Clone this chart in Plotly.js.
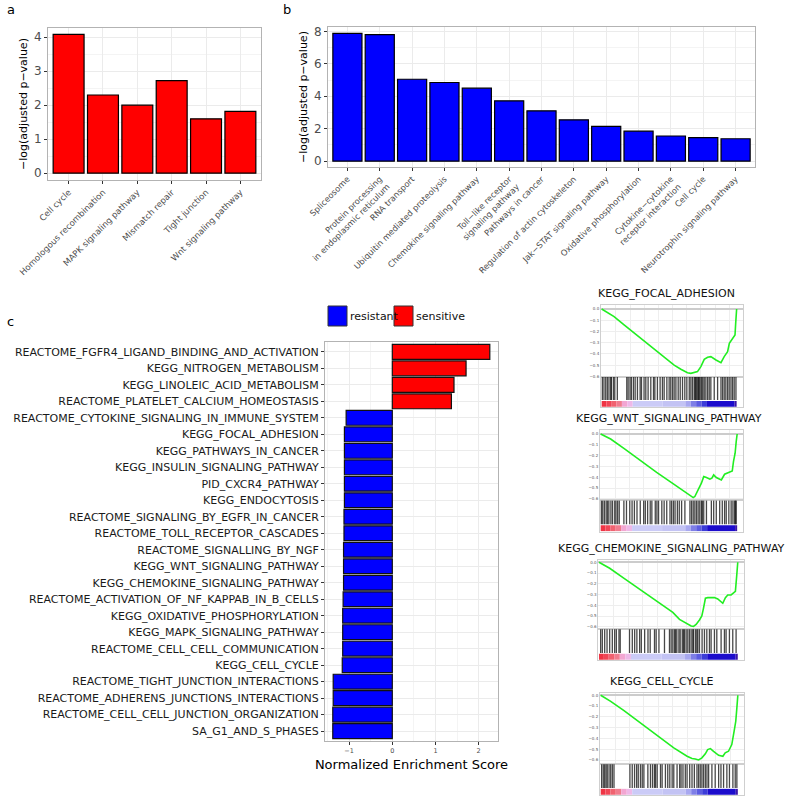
<!DOCTYPE html>
<html>
<head>
<meta charset="utf-8">
<script src="https://cdn.plot.ly/plotly-3.0.1.min.js"></script>
<style>html,body{margin:0;padding:0;background:#fff;}#chart{width:787px;height:798px;}</style>
</head>
<body>
<div id="chart"></div>
<script>
// ---------- Panel a ----------
const catA = ["Cell cycle", "Homologous recombination", "MAPK signaling pathway", "Mismatch repair", "Tight junction", "Wnt signaling pathway"];
const valA = [4.08, 2.3, 2.0, 2.72, 1.6, 1.82];

// ---------- Panel b ----------
const catB = ["Spliceosome", "Protein processing<br>in endoplasmic reticulum", "RNA transport", "Ubiquitin mediated proteolysis",
  "Chemokine signaling pathway", "Toll\u2212like receptor<br>signaling pathway", "Pathways in cancer", "Regulation of actin cytoskeleton",
  "Jak\u2212STAT signaling pathway", "Oxidative phosphorylation", "Cytokine\u2212cytokine<br>receptor interaction", "Cell cycle", "Neurotrophin signaling pathway"];
const valB = [7.88, 7.8, 5.05, 4.85, 4.5, 3.72, 3.1, 2.55, 2.15, 1.85, 1.55, 1.45, 1.38];

// ---------- Panel c ----------
const catC = ["REACTOME_FGFR4_LIGAND_BINDING_AND_ACTIVATION", "KEGG_NITROGEN_METABOLISM", "KEGG_LINOLEIC_ACID_METABOLISM",
  "REACTOME_PLATELET_CALCIUM_HOMEOSTASIS", "REACTOME_CYTOKINE_SIGNALING_IN_IMMUNE_SYSTEM", "KEGG_FOCAL_ADHESION",
  "KEGG_PATHWAYS_IN_CANCER", "KEGG_INSULIN_SIGNALING_PATHWAY", "PID_CXCR4_PATHWAY", "KEGG_ENDOCYTOSIS",
  "REACTOME_SIGNALING_BY_EGFR_IN_CANCER", "REACTOME_TOLL_RECEPTOR_CASCADES", "REACTOME_SIGNALLING_BY_NGF",
  "KEGG_WNT_SIGNALING_PATHWAY", "KEGG_CHEMOKINE_SIGNALING_PATHWAY", "REACTOME_ACTIVATION_OF_NF_KAPPAB_IN_B_CELLS",
  "KEGG_OXIDATIVE_PHOSPHORYLATION", "KEGG_MAPK_SIGNALING_PATHWAY", "REACTOME_CELL_CELL_COMMUNICATION", "KEGG_CELL_CYCLE",
  "REACTOME_TIGHT_JUNCTION_INTERACTIONS", "REACTOME_ADHERENS_JUNCTIONS_INTERACTIONS", "REACTOME_CELL_CELL_JUNCTION_ORGANIZATION",
  "SA_G1_AND_S_PHASES"];
const nesC = [2.26, 1.71, 1.43, 1.37, -1.07, -1.11, -1.11, -1.11, -1.11, -1.11, -1.12, -1.12, -1.13, -1.13, -1.13,
  -1.14, -1.15, -1.15, -1.15, -1.16, -1.37, -1.37, -1.38, -1.38];
const groupNames = ["resistant", "sensitive"];
const groupColors = ["#0000FF", "#FF0000"];

// ---------- GSEA enrichment plots ----------
const gseaTitles = ["KEGG_FOCAL_ADHESION", "KEGG_WNT_SIGNALING_PATHWAY", "KEGG_CHEMOKINE_SIGNALING_PATHWAY", "KEGG_CELL_CYCLE"];

const es1X = [0, 0.092, 0.166, 0.29, 0.413, 0.537, 0.587, 0.636, 0.661, 0.71, 0.735, 0.76, 0.785, 0.809, 0.847, 0.884, 0.908, 0.933, 0.946, 0.97, 0.988, 0.993, 1];
const es1Y = [0, -0.068, -0.142, -0.26, -0.38, -0.50, -0.537, -0.567, -0.573, -0.558, -0.513, -0.448, -0.43, -0.424, -0.454, -0.478, -0.424, -0.38, -0.306, -0.26, -0.231, -0.128, 0];
const hits1 = [0.005, 0.017, 0.03, 0.042, 0.054, 0.067, 0.072, 0.087, 0.097, 0.116, 0.186, 0.196, 0.21, 0.22, 0.235, 0.248, 0.265, 0.285,
  0.295, 0.314, 0.327, 0.344, 0.364, 0.384, 0.394, 0.413, 0.433, 0.45, 0.463, 0.483, 0.5, 0.512, 0.525, 0.537, 0.55, 0.567, 0.582,
  0.599, 0.616, 0.631, 0.649, 0.661, 0.673, 0.686, 0.693, 0.698, 0.705, 0.713, 0.718, 0.725, 0.735, 0.742, 0.75, 0.76, 0.772, 0.785,
  0.797, 0.809, 0.834, 0.859, 0.884, 0.896, 0.908, 0.92, 0.933, 0.945, 0.958, 0.97, 0.982, 0.995];

const es2X = [0, 0.073, 0.17, 0.29, 0.41, 0.53, 0.605, 0.654, 0.678, 0.69, 0.70, 0.72, 0.738, 0.755, 0.775, 0.80, 0.815, 0.828, 0.847, 0.884, 0.908, 0.925, 0.944, 0.964, 0.973, 0.985, 0.993, 1];
const es2Y = [0, -0.046, -0.132, -0.246, -0.354, -0.458, -0.526, -0.569, -0.588, -0.578, -0.548, -0.50, -0.455, -0.394, -0.403, -0.418, -0.409, -0.378, -0.403, -0.425, -0.372, -0.363, -0.348, -0.342, -0.255, -0.178, -0.071, 0];
const hits2 = [0.005, 0.015, 0.027, 0.04, 0.05, 0.06, 0.075, 0.087, 0.103, 0.112, 0.124, 0.136, 0.17, 0.189, 0.213, 0.23, 0.247, 0.266,
  0.29, 0.315, 0.327, 0.344, 0.363, 0.375, 0.4, 0.412, 0.424, 0.448, 0.465, 0.484, 0.508, 0.52, 0.533, 0.545, 0.562, 0.576, 0.593,
  0.617, 0.654, 0.666, 0.678, 0.69, 0.702, 0.714, 0.726, 0.738, 0.745, 0.755, 0.775, 0.811, 0.828, 0.847, 0.872, 0.891, 0.908, 0.92,
  0.939, 0.956, 0.969, 0.981, 0.988, 0.993];

const es3X = [0, 0.077, 0.173, 0.293, 0.412, 0.532, 0.58, 0.628, 0.664, 0.681, 0.70, 0.724, 0.741, 0.753, 0.767, 0.784, 0.808, 0.832, 0.856, 0.892, 0.911, 0.928, 0.952, 0.969, 0.983, 0.993, 1];
const es3Y = [0, -0.056, -0.143, -0.252, -0.357, -0.466, -0.531, -0.568, -0.593, -0.596, -0.578, -0.537, -0.5, -0.429, -0.335, -0.329, -0.326, -0.329, -0.342, -0.382, -0.329, -0.304, -0.304, -0.28, -0.27, -0.118, 0];
const hits3 = [0.012, 0.024, 0.041, 0.058, 0.077, 0.096, 0.113, 0.125, 0.144, 0.153, 0.22, 0.24, 0.257, 0.273, 0.293, 0.305, 0.329, 0.353,
  0.369, 0.4, 0.412, 0.432, 0.472, 0.508, 0.52, 0.532, 0.544, 0.552, 0.561, 0.576, 0.585, 0.6, 0.609, 0.616, 0.628, 0.64, 0.652, 0.664,
  0.676, 0.681, 0.695, 0.705, 0.712, 0.724, 0.743, 0.76, 0.777, 0.796, 0.808, 0.832, 0.849, 0.88, 0.904, 0.916, 0.94, 0.964, 0.988];

const es4X = [0, 0.073, 0.17, 0.29, 0.412, 0.533, 0.63, 0.666, 0.69, 0.714, 0.738, 0.763, 0.78, 0.80, 0.823, 0.86, 0.891, 0.908, 0.932, 0.956, 0.973, 0.985, 0.993, 1];
const es4Y = [0, -0.056, -0.142, -0.256, -0.373, -0.488, -0.565, -0.586, -0.59, -0.599, -0.58, -0.543, -0.503, -0.494, -0.519, -0.556, -0.565, -0.534, -0.519, -0.457, -0.333, -0.241, -0.117, 0];
const hits4 = [0.007, 0.019, 0.029, 0.039, 0.048, 0.061, 0.073, 0.085, 0.097, 0.213, 0.23, 0.247, 0.262, 0.274, 0.29, 0.303, 0.315, 0.344,
  0.363, 0.378, 0.392, 0.4, 0.412, 0.436, 0.448, 0.472, 0.489, 0.504, 0.521, 0.533, 0.557, 0.576, 0.586, 0.6, 0.617, 0.63, 0.649,
  0.666, 0.683, 0.702, 0.714, 0.726, 0.738, 0.75, 0.763, 0.775, 0.787, 0.811, 0.835, 0.86, 0.877, 0.896, 0.92, 0.939, 0.964, 0.981, 0.993];

// ranked-list colour strip segments (fraction of ranked list)
const cbStart = [0, 0.035, 0.07, 0.11, 0.15, 0.19, 0.23, 0.45, 0.62, 0.66, 0.70, 0.74, 0.78, 0.985];
const cbEnd   = [0.035, 0.07, 0.11, 0.15, 0.19, 0.23, 0.45, 0.62, 0.66, 0.70, 0.74, 0.78, 0.985, 1.0];
const cbColor = ["#ef3444", "#f04656", "#f06270", "#f07c8e", "#f2a6d2", "#eeb8e8", "#cbcbf7", "#c3c3f4", "#a8a8f0",
  "#7e7ee6", "#5c5ce0", "#3c3cd8", "#1c0ccc", "#3a14a8"];

// ---------- layout helpers ----------
const W = 787, H = 798;
const dx = (a, b) => [a / W, b / W];
const dy = (top, bottom) => [1 - bottom / H, 1 - top / H];

const FONT = "DejaVu Sans, Liberation Sans, sans-serif";
const GRID = "#ebebeb";
const MINOR = "#f4f4f4";
const FRAME = "#b3b3b3";

const traces = [];

// Panel a
traces.push({
  type: "bar", x: catA, y: valA, xaxis: "x", yaxis: "y", width: 0.9,
  marker: {color: "#FF0000", line: {color: "#000", width: 1.2}}, hoverinfo: "x+y"
});
// Panel b
traces.push({
  type: "bar", x: catB, y: valB, xaxis: "x2", yaxis: "y2", width: 0.9,
  marker: {color: "#0000FF", line: {color: "#000", width: 1.2}}, hoverinfo: "y"
});
// Panel c
traces.push({
  type: "bar", orientation: "h", x: nesC, y: catC, xaxis: "x3", yaxis: "y3", width: 0.9,
  marker: {color: nesC.map(v => v < 0 ? groupColors[0] : groupColors[1]), line: {color: "#111", width: 1.2}},
  hoverinfo: "x+y"
});

// GSEA panels
const esX = [es1X, es2X, es3X, es4X];
const esY = [es1Y, es2Y, es3Y, es4Y];
const hits = [hits1, hits2, hits3, hits4];
// pixel boxes: [left, right, esTop, esBottom, lowBottom], es range, title centre
const gBox = [
  [601, 742.7, 305, 376.7, 407, [-0.603, 0.036], 666],
  [600, 743.3, 430, 500.3, 531.5, [-0.613, 0.037], 669],
  [598.3, 744, 560, 629, 660, [-0.621, 0.021], 671],
  [600, 744, 693, 764, 795, [-0.637, 0.021], 662]
];

const layout = {
  width: W, height: H,
  margin: {l: 0, r: 0, t: 0, b: 0},
  paper_bgcolor: "#fff", plot_bgcolor: "#fff",
  showlegend: false, barmode: "overlay",
  font: {family: FONT, color: "#000"},
  xaxis: {
    domain: dx(48, 261), anchor: "y", type: "category", range: [-0.6, 5.6],
    tickangle: -45, tickfont: {size: 8.5, color: "#4d4d4d"},
    ticks: "outside", ticklen: 3, tickcolor: "#333", showgrid: true, gridcolor: GRID,
    showline: true, mirror: true, linecolor: FRAME, zeroline: false
  },
  yaxis: {
    domain: dy(28, 180), anchor: "x", range: [-0.2, 4.27], dtick: 1,
    tickfont: {size: 12, color: "#4d4d4d"}, ticks: "outside", ticklen: 3, tickcolor: "#333",
    showgrid: true, gridcolor: GRID, minor: {dtick: 0.5, showgrid: true, gridcolor: MINOR, ticks: ""},
    showline: true, mirror: true, linecolor: FRAME, zeroline: false,
    title: {text: "\u2212log(adjusted p\u2212value)", font: {size: 11, color: "#000"}, standoff: 4}
  },
  xaxis2: {
    domain: dx(328, 755), anchor: "y2", type: "category", range: [-0.6, 12.6],
    tickangle: -45, tickfont: {size: 8.3, color: "#4d4d4d"},
    ticks: "outside", ticklen: 3, tickcolor: "#333", showgrid: true, gridcolor: GRID,
    showline: true, mirror: true, linecolor: FRAME, zeroline: false
  },
  yaxis2: {
    domain: dy(27, 167), anchor: "x2", range: [-0.36, 8.27], dtick: 2,
    tickfont: {size: 12, color: "#4d4d4d"}, ticks: "outside", ticklen: 3, tickcolor: "#333",
    showgrid: true, gridcolor: GRID, minor: {dtick: 1, showgrid: true, gridcolor: MINOR, ticks: ""},
    showline: true, mirror: true, linecolor: FRAME, zeroline: false,
    title: {text: "\u2212log(adjusted p\u2212value)", font: {size: 11, color: "#000"}, standoff: 4}
  },
  xaxis3: {
    domain: dx(325, 498), anchor: "y3", range: [-1.56, 2.45], dtick: 1,
    tickfont: {size: 6.5, color: "#4d4d4d"}, ticks: "outside", ticklen: 3, tickcolor: "#333",
    showgrid: true, gridcolor: GRID, minor: {dtick: 0.5, showgrid: true, gridcolor: MINOR, ticks: ""},
    showline: true, mirror: true, linecolor: FRAME, zeroline: false,
    title: {text: "Normalized Enrichment Score", font: {size: 13, color: "#000"}, standoff: 6}
  },
  yaxis3: {
    domain: dy(342, 741), anchor: "x3", type: "category", range: [23.6, -0.6],
    tickfont: {size: 11, color: "#1a1a1a"}, ticks: "outside", ticklen: 3, tickcolor: "#333",
    showgrid: true, gridcolor: GRID, showline: true, mirror: true, linecolor: FRAME, zeroline: false
  },
  shapes: [], annotations: []
};

for (let k = 0; k < 4; k++) {
  const b = gBox[k];
  const xe = 4 + 2 * k, xl = 5 + 2 * k;
  const xr = [-0.005, 1.045];
  layout["xaxis" + xe] = {
    domain: dx(b[0], b[1]), anchor: "y" + xe, range: xr, showticklabels: false, ticks: "",
    showgrid: true, gridcolor: "#eeeeee", dtick: 0.105, tick0: 0.105, zeroline: false,
    showline: true, mirror: true, linecolor: "#cfcfcf", linewidth: 1
  };
  layout["yaxis" + xe] = {
    domain: dy(b[2], b[3]), anchor: "x" + xe, range: b[5], dtick: 0.1, tickformat: ".1f",
    tickfont: {size: 4, color: "#555"}, ticks: "", showgrid: true, gridcolor: "#eeeeee",
    zeroline: true, zerolinecolor: "#cccccc", zerolinewidth: 2,
    showline: true, mirror: true, linecolor: "#cfcfcf", linewidth: 1
  };
  layout["xaxis" + xl] = {
    domain: dx(b[0], b[1]), anchor: "y" + xl, range: xr, showticklabels: false, ticks: "",
    showgrid: false, zeroline: false, showline: true, mirror: true, linecolor: "#cfcfcf", linewidth: 1
  };
  layout["yaxis" + xl] = {
    domain: dy(b[3], b[4]), anchor: "x" + xl, range: [-0.3, 1.01], showticklabels: false, ticks: "",
    showgrid: false, zeroline: false, showline: true, mirror: true, linecolor: "#cfcfcf", linewidth: 1
  };

  // running enrichment score
  traces.push({
    type: "scatter", mode: "lines", x: esX[k], y: esY[k], xaxis: "x" + xe, yaxis: "y" + xe,
    line: {color: "#22ee22", width: 1.6}, hoverinfo: "skip"
  });
  // hit barcode
  const bx = [], by = [];
  hits[k].forEach(h => { bx.push(h, h, null); by.push(0, 1, null); });
  traces.push({
    type: "scatter", mode: "lines", x: bx, y: by, xaxis: "x" + xl, yaxis: "y" + xl,
    line: {color: "rgba(0,0,0,0.72)", width: 1.3}, hoverinfo: "skip", connectgaps: false
  });
  // ranked list colour strip
  traces.push({
    type: "bar", orientation: "h", base: cbStart, x: cbEnd.map((e, i) => e - cbStart[i]),
    y: cbStart.map(() => -0.165), width: 0.25, xaxis: "x" + xl, yaxis: "y" + xl,
    marker: {color: cbColor, line: {width: 0}}, hoverinfo: "skip"
  });
  // title
  layout.annotations.push({
    xref: "paper", yref: "paper", x: b[6] / W, y: 1 - (b[2] - 12) / H, xanchor: "center", yanchor: "middle",
    text: gseaTitles[k], showarrow: false, font: {size: 11, color: "#111", family: FONT}
  });
}

// panel letters
[["a", 5, 10], ["b", 281, 10], ["c", 5, 322]].forEach(p => {
  layout.annotations.push({
    xref: "paper", yref: "paper", x: p[1] / W, y: 1 - p[2] / H, xanchor: "left", yanchor: "middle",
    text: p[0], showarrow: false, font: {size: 13, color: "#000", family: FONT}
  });
});

// legend for panel c (boxes + labels)
const legX = [328, 394];
groupNames.forEach((g, i) => {
  layout.shapes.push({
    type: "rect", xref: "paper", yref: "paper",
    x0: legX[i] / W, x1: (legX[i] + 19) / W, y0: 1 - 326 / H, y1: 1 - 306 / H,
    fillcolor: groupColors[i], line: {color: "#333", width: 1}
  });
  layout.annotations.push({
    xref: "paper", yref: "paper", x: (legX[i] + 20) / W, y: 1 - 316 / H, xanchor: "left", yanchor: "middle",
    text: g, showarrow: false, font: {size: 11, color: "#111", family: FONT}
  });
});

Plotly.newPlot("chart", traces, layout, {displayModeBar: false, staticPlot: true});
</script>
</body>
</html>
